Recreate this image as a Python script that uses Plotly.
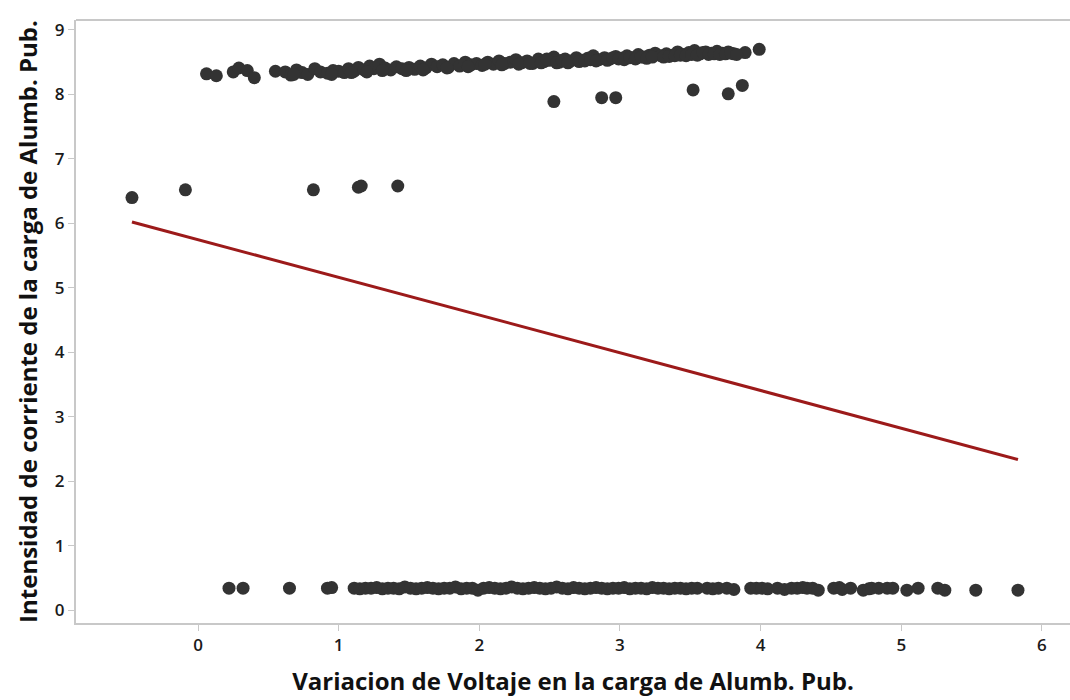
import plotly.graph_objects as go

# Upper cluster: current around 8.3-8.7 A
upper_x = [0.06, 0.13, 0.25, 0.29, 0.35, 0.40, 0.55, 0.62, 0.66, 0.70, 0.74, 0.78,
           0.83, 0.87, 0.92, 0.96, 1.00, 1.04, 1.07, 1.11, 1.14, 1.18, 1.22, 1.25,
           1.29, 1.33, 1.37, 1.41, 1.45, 1.50, 1.54, 1.58, 1.62, 1.66, 1.70, 1.74,
           1.78, 1.82, 1.86, 1.90, 1.94, 1.98, 2.02, 2.06, 2.10, 2.14, 2.18, 2.22,
           2.26, 2.30, 2.34, 2.38, 2.42, 2.46, 2.50, 2.53, 2.57, 2.61, 2.65, 2.69,
           2.73, 2.77, 2.81, 2.85, 2.89, 2.93, 2.97, 3.01, 3.05, 3.09, 3.13, 3.17,
           3.21, 3.25, 3.29, 3.33, 3.37, 3.41, 3.45, 3.49, 3.53, 3.57, 3.61, 3.65,
           3.69, 3.73, 3.77, 3.81, 3.89, 3.99,
           0.68, 0.95, 1.09, 1.20, 1.31, 1.48, 1.60, 1.77, 1.92, 2.04, 2.16, 2.28,
           2.36, 2.44, 2.48, 2.55, 2.59, 2.63, 2.71, 2.75, 2.79, 2.83, 2.91, 2.95,
           2.99, 3.03, 3.07, 3.11, 3.15, 3.19, 3.23, 3.31, 3.35, 3.39, 3.43, 3.47,
           3.51, 3.55, 3.59, 3.63, 3.67, 3.71, 3.75, 3.79, 3.83]
upper_y = [8.32, 8.29, 8.35, 8.41, 8.37, 8.26, 8.36, 8.35, 8.30, 8.38, 8.34, 8.31,
           8.40, 8.35, 8.33, 8.37, 8.36, 8.34, 8.40, 8.36, 8.42, 8.38, 8.44, 8.40,
           8.47, 8.41, 8.38, 8.43, 8.40, 8.42, 8.39, 8.44, 8.41, 8.47, 8.43, 8.46,
           8.42, 8.48, 8.44, 8.50, 8.46, 8.48, 8.45, 8.50, 8.47, 8.52, 8.48, 8.50,
           8.54, 8.49, 8.52, 8.48, 8.55, 8.51, 8.53, 8.58, 8.50, 8.55, 8.52, 8.57,
           8.53, 8.56, 8.60, 8.54, 8.57, 8.55, 8.59, 8.56, 8.60, 8.57, 8.62, 8.58,
           8.61, 8.64, 8.60, 8.63, 8.61, 8.66, 8.62, 8.65, 8.68, 8.63, 8.66, 8.64,
           8.67, 8.64, 8.66, 8.63, 8.65, 8.70,
           8.31, 8.31, 8.34, 8.35, 8.37, 8.37, 8.38, 8.41, 8.43, 8.47, 8.46, 8.47,
           8.48, 8.49, 8.55, 8.49, 8.53, 8.49, 8.51, 8.52, 8.54, 8.52, 8.53, 8.57,
           8.55, 8.54, 8.57, 8.55, 8.58, 8.56, 8.58, 8.58, 8.59, 8.60, 8.61, 8.60,
           8.62, 8.61, 8.65, 8.62, 8.63, 8.62, 8.63, 8.64, 8.62]

# Scattered points between the clusters
mid_x = [-0.47, -0.09, 0.82, 1.14, 1.16, 1.42,
         2.53, 2.87, 2.97, 3.52, 3.77, 3.87]
mid_y = [6.40, 6.52, 6.52, 6.56, 6.58, 6.58,
         7.89, 7.95, 7.95, 8.07, 8.01, 8.14]

# Lower cluster: current around 0.3 A
lower_x = [0.22, 0.32, 0.65, 0.92, 0.95, 1.11, 1.15, 1.19, 1.23, 1.27, 1.31, 1.35,
           1.39, 1.43, 1.47, 1.51, 1.55, 1.59, 1.63, 1.67, 1.71, 1.75, 1.79, 1.83,
           1.87, 1.91, 1.95, 1.99, 2.03, 2.07, 2.11, 2.15, 2.19, 2.23, 2.27, 2.31,
           2.35, 2.39, 2.43, 2.47, 2.51, 2.55, 2.59, 2.63, 2.67, 2.71, 2.75, 2.79,
           2.83, 2.87, 2.91, 2.95, 2.99, 3.03, 3.07, 3.11, 3.15, 3.19, 3.23, 3.27,
           3.31, 3.35, 3.39, 3.43, 3.47, 3.51, 3.55, 3.62, 3.66, 3.70, 3.76, 3.81,
           3.93, 3.97, 4.01, 4.05, 4.12, 4.17, 4.22, 4.26, 4.30, 4.33, 4.37, 4.41,
           4.52, 4.56, 4.58, 4.64, 4.73, 4.77, 4.79, 4.84, 4.90, 4.94, 5.04, 5.12,
           5.26, 5.31, 5.53, 5.83]
lower_y = [0.34, 0.34, 0.34, 0.34, 0.35, 0.34, 0.33, 0.34, 0.34, 0.35, 0.33, 0.34,
           0.34, 0.33, 0.36, 0.34, 0.33, 0.34, 0.35, 0.34, 0.33, 0.34, 0.34, 0.36,
           0.33, 0.34, 0.34, 0.31, 0.34, 0.35, 0.34, 0.33, 0.34, 0.36, 0.34, 0.33,
           0.34, 0.35, 0.34, 0.33, 0.34, 0.36, 0.34, 0.33, 0.35, 0.34, 0.33, 0.34,
           0.35, 0.34, 0.33, 0.34, 0.34, 0.35, 0.33, 0.34, 0.34, 0.33, 0.35, 0.34,
           0.34, 0.33, 0.34, 0.34, 0.33, 0.34, 0.34, 0.34, 0.33, 0.34, 0.34, 0.32,
           0.34, 0.34, 0.34, 0.33, 0.34, 0.32, 0.34, 0.34, 0.35, 0.34, 0.34, 0.31,
           0.34, 0.35, 0.32, 0.34, 0.31, 0.33, 0.34, 0.34, 0.34, 0.34, 0.31, 0.34,
           0.34, 0.31, 0.31, 0.31]

# Least-squares line: intercept and slope
fit_coef = [5.747, -0.585]

x_ticks = [0, 1, 2, 3, 4, 5, 6]
y_ticks = [0, 1, 2, 3, 4, 5, 6, 7, 8, 9]

all_x = upper_x + mid_x + lower_x
all_y = upper_y + mid_y + lower_y
x_lo, x_hi = min(all_x), max(all_x)
fit_x = [x_lo, x_hi]
fit_y = [fit_coef[0] + fit_coef[1] * v for v in fit_x]

fig = go.Figure()
fig.add_trace(go.Scatter(
    x=all_x, y=all_y, mode="markers",
    marker=dict(size=13, color="#333333", line=dict(width=0)),
    showlegend=False, hoverinfo="x+y",
))
fig.add_trace(go.Scatter(
    x=fit_x, y=fit_y, mode="lines",
    line=dict(color="#9c1a1a", width=3),
    showlegend=False,
))

tick_font = dict(family="Open Sans", size=17, color="#1a1a1a", weight=600)
title_font = dict(family="Open Sans", size=24, color="#111111", weight=700)

# Top border of the plot area (the box stays open on the right)
fig.add_shape(type="line", xref="paper", yref="paper", x0=0, x1=1, y0=1, y1=1,
              line=dict(color="#c8c8c8", width=2), layer="above")

fig.update_layout(
    width=1070, height=700,
    margin=dict(l=76, r=0, t=20, b=77),
    plot_bgcolor="white", paper_bgcolor="white",
    xaxis=dict(
        range=[-0.868, 6.2], tickvals=x_ticks, ticktext=[str(v) for v in x_ticks],
        showgrid=False, zeroline=False,
        showline=True, linecolor="#c8c8c8", linewidth=2,
        ticks="outside", ticklen=6, tickcolor="#c8c8c8", tickwidth=1,
        tickfont=tick_font,
        title=dict(text="Variacion de Voltaje en la carga de Alumb. Pub.",
                   font=title_font, standoff=18),
    ),
    yaxis=dict(
        range=[-0.2, 9.155], tickvals=y_ticks, ticktext=[str(v) for v in y_ticks],
        showgrid=False, zeroline=False,
        showline=True, linecolor="#c8c8c8", linewidth=2,
        ticks="outside", ticklen=6, tickcolor="#c8c8c8", tickwidth=1,
        tickfont=tick_font,
        title=dict(text="Intensidad de corriente de la carga de Alumb. Pub.",
                   font=title_font, standoff=10),
    ),
)

fig.write_html("out.html")
